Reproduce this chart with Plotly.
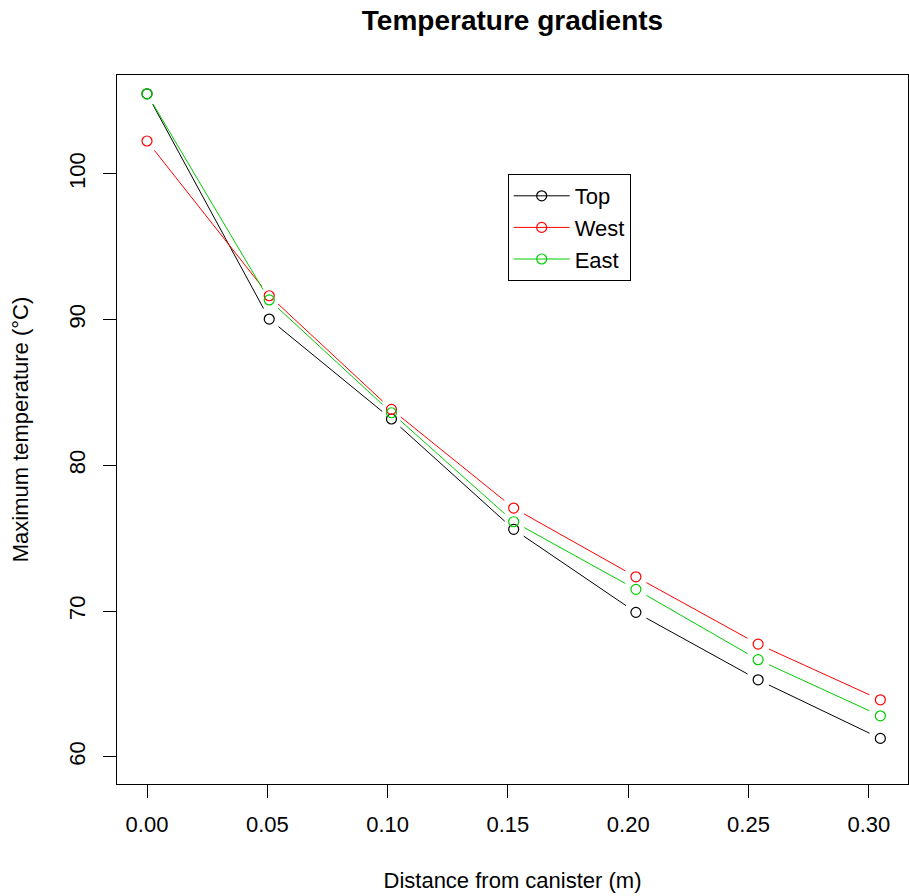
import math
import plotly.graph_objects as go

# ---- data ----
distance_m = [0.0, 0.0508, 0.1016, 0.1524, 0.2032, 0.254, 0.3048]
top_temp = [105.5, 90.04, 83.18, 75.61, 69.91, 65.28, 61.26]
west_temp = [102.26, 91.64, 83.84, 77.07, 72.35, 67.73, 63.91]
east_temp = [105.5, 91.35, 83.61, 76.13, 71.49, 66.66, 62.81]
series_names = ["Top", "West", "East"]
series_colors = ["#000000", "#FF0000", "#00CD00"]
x_tick_vals = [0.0, 0.05, 0.10, 0.15, 0.20, 0.25, 0.30]
x_tick_text = ["0.00", "0.05", "0.10", "0.15", "0.20", "0.25", "0.30"]
y_tick_vals = [60, 70, 80, 90, 100]

# ---- layout geometry ----
W, H = 909, 896
ML, MR, MT, MB = 117, 1, 75, 112
XR = [-0.01247, 0.31629]
YR = [58.13, 106.79]
plot_w = W - ML - MR
plot_h = H - MT - MB
kx = plot_w / (XR[1] - XR[0])
ky = plot_h / (YR[1] - YR[0])
GAP = 12.0  # pixel gap around points (R type="b")

FONT = "Liberation Sans, Arial, sans-serif"


def gapped(xs, ys):
    ox, oy = [], []
    for i in range(len(xs) - 1):
        x1, y1, x2, y2 = xs[i], ys[i], xs[i + 1], ys[i + 1]
        dxp = (x2 - x1) * kx
        dyp = (y2 - y1) * ky
        L = math.hypot(dxp, dyp)
        if L <= 2 * GAP:
            continue
        f = GAP / L
        ox += [x1 + (x2 - x1) * f, x2 - (x2 - x1) * f, None]
        oy += [y1 + (y2 - y1) * f, y2 - (y2 - y1) * f, None]
    return ox, oy


fig = go.Figure()
for name, vals, col in zip(series_names, [top_temp, west_temp, east_temp], series_colors):
    gx, gy = gapped(distance_m, vals)
    fig.add_trace(go.Scatter(x=gx, y=gy, mode="lines", line=dict(color=col, width=1),
                             connectgaps=False, showlegend=False, hoverinfo="skip"))
    fig.add_trace(go.Scatter(x=distance_m, y=vals, mode="markers", name=name,
                             marker=dict(symbol="circle-open", size=10, color=col,
                                         line=dict(width=1.2, color=col)),
                             showlegend=False))
for name, col in zip(series_names, series_colors):
    fig.add_trace(go.Scatter(x=[None], y=[None], mode="lines+markers", name=name,
                             line=dict(color=col, width=1),
                             marker=dict(symbol="circle-open", size=10, color=col,
                                         line=dict(width=1.2, color=col))))

axis_common = dict(showgrid=False, zeroline=False, showline=True, mirror=True,
                   linecolor="#000000", linewidth=1, ticks="outside", ticklen=13,
                   tickwidth=1, tickcolor="#000000",
                   tickfont=dict(family=FONT, size=22, color="#000000"))

fig.update_layout(
    width=W, height=H,
    margin=dict(l=ML, r=MR, t=MT, b=MB),
    paper_bgcolor="white", plot_bgcolor="white",
    font=dict(family=FONT, size=22, color="#000000"),
    title=dict(text="<b>Temperature gradients</b>", x=0.5, xref="paper",
               y=1 - 20 / H, yref="container", yanchor="middle",
               font=dict(family=FONT, size=28, color="#000000")),
    xaxis=dict(range=XR, tickvals=x_tick_vals, ticktext=x_tick_text,
               ticklabelstandoff=8,
               title=dict(text="Distance from canister (m)", standoff=36,
                          font=dict(family=FONT, size=22)),
               **axis_common),
    yaxis=dict(range=YR, tickvals=y_tick_vals, tickangle=-90,
               ticklabelstandoff=9,
               title=dict(text="Maximum temperature (°C)", standoff=30,
                          font=dict(family=FONT, size=22)),
               **axis_common),
    legend=dict(x=(507.7 - ML) / plot_w, y=(H - MB - 174) / plot_h,
                xanchor="left", yanchor="top",
                bordercolor="#000000", borderwidth=1, bgcolor="white",
                font=dict(family=FONT, size=22, color="#000000"),
                tracegroupgap=0, itemwidth=56),
    showlegend=True,
)

fig.write_html("out.html",
               config={"displayModeBar": False},
               post_script="document.body.style.margin='0';document.body.style.padding='0';")
